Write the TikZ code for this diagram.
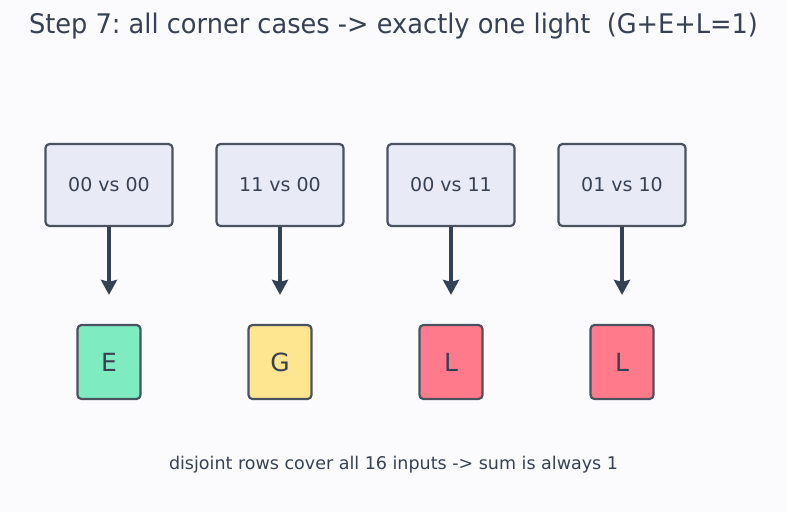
\documentclass[tikz,border=0pt]{standalone}
\usepackage{fontspec}
\setmainfont{DejaVu Sans}
\newfontfamily\titlefont[FakeStretch=0.95]{DejaVu Sans}
\usetikzlibrary{arrows.meta}
\frenchspacing
\definecolor{pagebg}{HTML}{FBFBFE}
\definecolor{casefill}{HTML}{E8EAF6}
\definecolor{boxline}{HTML}{4A5260}
\definecolor{inkgray}{HTML}{374151}
\definecolor{arrowgray}{HTML}{334155}
\definecolor{lampE}{HTML}{7EEBC0}
\definecolor{lampG}{HTML}{FDE68F}
\definecolor{lampL}{HTML}{FF7B8C}
\tikzset{
  casebox/.style={draw=boxline, line width=2.2pt, rounded corners=4pt, fill=casefill,
    minimum width=127pt, minimum height=82pt, text=inkgray, font=\fontsize{19}{22}\selectfont},
  lampbox/.style={draw=boxline, line width=2.2pt, rounded corners=4pt,
    minimum width=63pt, minimum height=74pt, text=inkgray, font=\fontsize{25}{29}\selectfont},
  flow/.style={draw=arrowgray, line width=3.3pt, shorten >=29pt,
    -{Stealth[length=15pt, width=16pt, inset=2pt]}}
}

\begin{document}
\begin{tikzpicture}[x=1pt,y=-1pt]
\fill[pagebg] (0,0) rectangle (787,512);
\useasboundingbox (0,0) rectangle (787,512);

% Title
\node[text=inkgray, font=\titlefont\fontsize{27}{31}\selectfont] (title) at (393.5,26)
  {Step 7: all corner cases -> exactly one light\ \ (G+E+L=1)};

% Cases and lights
\foreach \x/\case/\lamp/\tint [count=\n] in {109/00 vs 00/E/lampE, 280/11 vs 00/G/lampG,
    451/00 vs 11/L/lampL, 622/01 vs 10/L/lampL} {
  \node[casebox] (case\n) at (\x,185) {\case};
  \node[lampbox, fill=\tint] (lamp\n) at (\x,362) {\lamp};
  \draw[flow] (case\n.south) -- (lamp\n.north);
}

% Footnote
\node[text=inkgray, font=\fontsize{17.5}{21}\selectfont] (note) at (393.5,465)
  {disjoint rows cover all 16 inputs -> sum is always 1};
\end{tikzpicture}
\end{document}
